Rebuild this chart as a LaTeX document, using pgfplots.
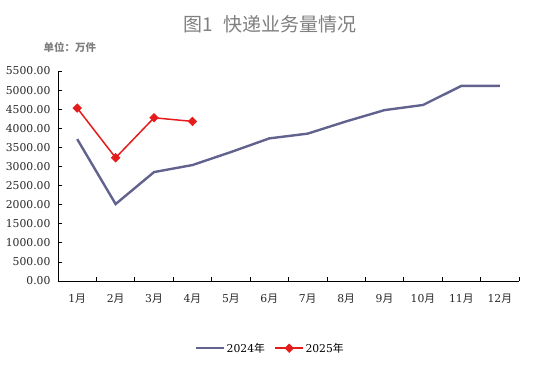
\documentclass[border=0pt]{standalone}
\usepackage{fontspec}
\setmainfont{DejaVu Serif}
\newfontfamily\cjk{Noto Sans CJK SC}
\usepackage{pgfplots}
\pgfplotsset{compat=1.18}
\definecolor{ser24}{HTML}{62628F}
\definecolor{ser25}{HTML}{E41C1C}
\definecolor{txtgray}{HTML}{7F7F7F}
\begin{document}
\begin{tikzpicture}[x=1pt,y=1pt]
\path[use as bounding box] (0,0) rectangle (539,376);
\node[text=txtgray,font=\cjk\fontsize{19}{19}\selectfont] at (270,352) {图1\hspace{0.5em}快递业务量情况};
\node[text=txtgray,font=\cjk\bfseries\fontsize{10.5}{10.5}\selectfont,anchor=west] at (40,329) {单位：万件};
\begin{axis}[
  at={(58pt,95pt)}, anchor=south west,
  scale only axis, width=461pt, height=210pt,
  xmin=0.5, xmax=12.5, ymin=0, ymax=5500,
  axis x line*=bottom, axis y line*=left,
  axis line style={black, line width=0.8pt},
  xtick={0.5,1.5,...,12.5}, xticklabels={},
  extra x ticks={1,...,12},
  extra x tick style={major tick length=0pt},
  extra x tick labels={1{\cjk 月},2{\cjk 月},3{\cjk 月},4{\cjk 月},5{\cjk 月},6{\cjk 月},7{\cjk 月},8{\cjk 月},9{\cjk 月},10{\cjk 月},11{\cjk 月},12{\cjk 月}},
  ytick={0,500,...,5500},
  yticklabel={\pgfmathprintnumber[fixed,fixed zerofill,precision=2,1000 sep={}]{\tick}},
  /pgf/number format/assume math mode=true,
  tick style={black, line width=0.8pt},
  major tick length=4pt,
  ticklabel style={font=\fontsize{10.8}{11}\selectfont, text=black!85},
  yticklabel style={xshift=-4pt},
  xticklabel style={yshift=-9pt},
  legend style={at={(0.46,-0.32)}, anchor=center, draw=none, legend columns=2,
     font=\fontsize{10.8}{11}\selectfont,
     /tikz/every even column/.append style={column sep=8pt},
     nodes={inner xsep=1.5pt}},
  legend image code/.code={\draw[#1] (0pt,0pt) -- (28pt,0pt); \path[#1, mark repeat=2, mark phase=2] plot coordinates {(0pt,0pt) (14pt,0pt) (28pt,0pt)};},
  legend cell align=left,
  clip=false,
]
\addplot[ser24, line width=2.4pt, mark=none] coordinates {
(1,3717) (2,2015) (3,2853) (4,3037) (5,3377) (6,3735) (7,3860) (8,4180) (9,4476) (10,4610) (11,5110) (12,5110)};
\addlegendentry{2024{\cjk 年}}
\addplot[ser25, line width=1.5pt, mark=square*, mark size=3pt, mark options={fill=ser25, draw=ser25, rotate=45, line width=0.6pt}] coordinates {
(1,4529) (2,3228) (3,4275) (4,4180)};
\addlegendentry{2025{\cjk 年}}
\end{axis}
\end{tikzpicture}
\end{document}
